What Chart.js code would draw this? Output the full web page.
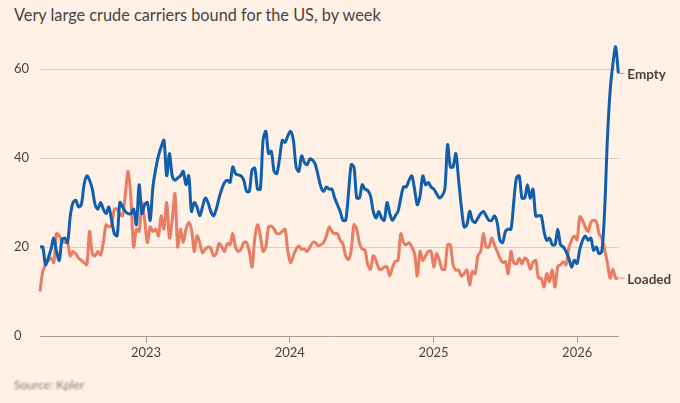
<!DOCTYPE html>
<html>
<head>
<meta charset="utf-8">
<script src="https://cdn.jsdelivr.net/npm/chart.js@4"></script>
<style>
  html, body { margin: 0; padding: 0; background: #fff1e5; }
  #wrap { position: relative; width: 680px; height: 403px; overflow: hidden; font-family: Lato, sans-serif; }
  #chart { position: absolute; left: 0; top: 0; }
  #title { position: absolute; left: 14px; top: 5px; font-size: 16.3px; color: #4a4340; white-space: nowrap; }
  #source { position: absolute; left: 14px; top: 377px; font-size: 12px; color: #7f7d7c; filter: blur(1px); white-space: nowrap; }
</style>
</head>
<body>
<div id="wrap">
  <div id="title">Very large crude carriers bound for the US, by week</div>
  <canvas id="chart" width="680" height="403"></canvas>
  <div id="source">Source: Kpler</div>
</div>
<script>
// Weekly counts, first week is April 2022
const emptyVessels = [
  20, 20, 16, 17.5, 19.5, 22, 19, 17, 21.7, 22, 21, 27, 30, 30.5, 29, 29.5, 34, 36, 35, 33,
  29.5, 28.5, 30, 28.5, 27.5, 29, 26, 23, 22.5, 30, 29, 28, 27.5, 27.5, 28.5, 25, 34, 27.5, 29.5, 30,
  26, 33.5, 37.5, 40.5, 42.5, 44, 36, 41, 36, 35, 35.5, 36, 37, 34, 36, 28, 30, 29, 27, 29,
  31, 30, 28, 27, 28.5, 31, 33, 34.5, 35, 34.5, 38, 36.5, 36.2, 36, 35, 32.5, 32.5, 37.3, 37.7, 33,
  33, 44, 46, 41, 41.5, 37, 36.5, 40, 44, 43.5, 45, 46, 44, 38, 37, 40.5, 39, 38.5, 39.8, 39.5,
  38.5, 36, 33.5, 32.5, 33.5, 33, 33, 31, 29.5, 28, 26, 26, 32, 38.5, 38, 31, 31, 34, 33, 32.7,
  31.5, 28, 26.5, 28, 26.5, 26, 30, 27.5, 26, 27, 28, 31, 33.5, 33.5, 35, 36, 33, 29.5, 31.5, 36,
  34, 34.5, 33.5, 33, 32, 31, 31.5, 33, 43, 38, 38, 41, 35, 29, 24.5, 25, 28, 26, 25.5, 26.5,
  27.5, 28, 27, 26, 26, 27, 25.5, 21.5, 21, 23.5, 24, 24, 30, 35.5, 36, 31, 31, 34, 31, 33,
  27, 27, 27, 23.5, 21.5, 22, 20.5, 20.5, 24, 20.5, 20, 19, 17.5, 15.5, 17, 16.3, 19.5, 21.5, 22.5, 21.5,
  22, 19.3, 20, 18.5, 19, 28, 44, 55, 61, 65, 59
];
const loadedVessels = [
  10, 14.5, 16, 17, 17.5, 16.5, 23, 22.5, 21.5, 21, 21, 18, 19, 18.5, 17.5, 17, 16.5, 16, 23.5, 18.5,
  18, 19, 18.2, 21, 25, 24.5, 25, 28.5, 28.5, 27.5, 27, 32, 37, 31, 20, 24, 23.5, 30, 26, 21,
  24.5, 23.5, 24, 22.5, 27, 24, 30, 22, 26, 32, 20, 24, 21, 24, 25.5, 24, 19, 22.5, 21, 18.7,
  19.5, 20, 19.7, 18, 18.5, 20.8, 20, 19, 20.8, 20.5, 23, 20, 19, 19.5, 21, 21, 19, 15.5, 22, 25,
  22.5, 19, 20, 24.5, 24.7, 24, 23, 23, 23.5, 24, 19, 16.5, 18, 19.5, 20.2, 19.5, 19.5, 19, 20, 21,
  21, 20.3, 20.5, 21, 22.5, 24.5, 23.5, 23, 23, 21.5, 20.7, 18, 17.2, 19.3, 25, 24, 20.8, 19.5, 19.3, 16,
  15, 18, 17, 15.2, 15, 15.5, 15.5, 13.5, 15.5, 16.8, 17, 23, 21, 20.5, 21, 20, 18.5, 13.5, 19, 17,
  18, 19, 19, 15.5, 18.5, 17, 15, 15, 20.5, 20.5, 16, 14.8, 14.8, 13.5, 14, 14.8, 11.5, 14.5, 14, 18,
  19, 23, 20, 20, 22, 20.5, 19, 17.5, 16.5, 16.7, 14, 19, 16.5, 16.2, 17.5, 16.2, 17.5, 17, 15, 16.5,
  17, 13, 13, 11, 14, 12.2, 14.8, 11, 15.6, 16, 16.7, 16, 19.7, 21.5, 22.5, 21.6, 26.8, 26, 24.5, 23.5,
  25.5, 26, 25.7, 23, 22, 19.5, 16.5, 13, 15, 13, 13
];
const yTicks = [0, 20, 40, 60];
const yearTicks = [2023, 2024, 2025, 2026];
const seriesNames = ['Empty', 'Loaded'];

const firstWeek = 2022.262;   // decimal year of the first reading
const weeksPerYear = 52.18;
const blue = '#105fae';
const orange = '#e97c62';
const textColor = '#4a4340';

function toPoints(values) {
  return values.map(function (v, i) {
    return { x: firstWeek + i / weeksPerYear, y: v };
  });
}

// Names at the end of each line, with a short leader
const endLabels = {
  id: 'endLabels',
  afterDatasetsDraw: function (chart) {
    const c = chart.ctx;
    chart.data.datasets.forEach(function (ds, i) {
      const last = ds.data[ds.data.length - 1];
      const x = chart.scales.x.getPixelForValue(last.x);
      const y = chart.scales.y.getPixelForValue(last.y);
      c.save();
      c.strokeStyle = '#a89a8e';
      c.lineWidth = 1;
      c.beginPath();
      c.moveTo(x + 1, y);
      c.lineTo(x + 6, y);
      c.stroke();
      c.fillStyle = textColor;
      c.font = 'bold 13.5px Lato, sans-serif';
      c.textBaseline = 'middle';
      c.fillText(ds.label, x + 9, y + 1);
      c.restore();
    });
  }
};

new Chart(document.getElementById('chart').getContext('2d'), {
  type: 'line',
  data: {
    datasets: [
      { label: seriesNames[0], data: toPoints(emptyVessels), borderColor: blue, borderWidth: 3, pointRadius: 0, tension: 0.3, clip: false },
      { label: seriesNames[1], data: toPoints(loadedVessels), borderColor: orange, borderWidth: 3, pointRadius: 0, tension: 0.3, clip: false }
    ]
  },
  options: {
    responsive: false,
    animation: false,
    layout: { padding: { left: 14, right: 61, top: 24.5, bottom: 0 } },
    plugins: { legend: { display: false }, title: { display: false }, tooltip: { enabled: false } },
    scales: {
      x: {
        type: 'linear',
        min: firstWeek,
        max: 2026.291,
        afterBuildTicks: function (scale) {
          scale.ticks = yearTicks.map(function (v) { return { value: v }; });
        },
        afterFit: function (scale) { scale.height = 67; },
        border: { display: false },
        grid: { drawOnChartArea: false, drawTicks: true, tickLength: 7, color: '#a89a8e' },
        ticks: {
          autoSkip: false,
          maxRotation: 0,
          padding: 2,
          color: textColor,
          font: { family: 'Lato, sans-serif', size: 13 },
          callback: function (v) { return String(v); }
        }
      },
      y: {
        min: 0,
        max: 70,
        afterBuildTicks: function (scale) {
          scale.ticks = yTicks.map(function (v) { return { value: v }; });
        },
        afterFit: function (scale) { scale.width = 26; },
        border: { display: false },
        grid: {
          drawTicks: false,
          color: function (ctx) { return ctx.tick.value === 0 ? '#a89a8e' : '#dacfc5'; }
        },
        ticks: {
          crossAlign: 'far',
          color: textColor,
          font: { family: 'Lato, sans-serif', size: 13 }
        }
      }
    }
  },
  plugins: [endLabels]
});
</script>
</body>
</html>
